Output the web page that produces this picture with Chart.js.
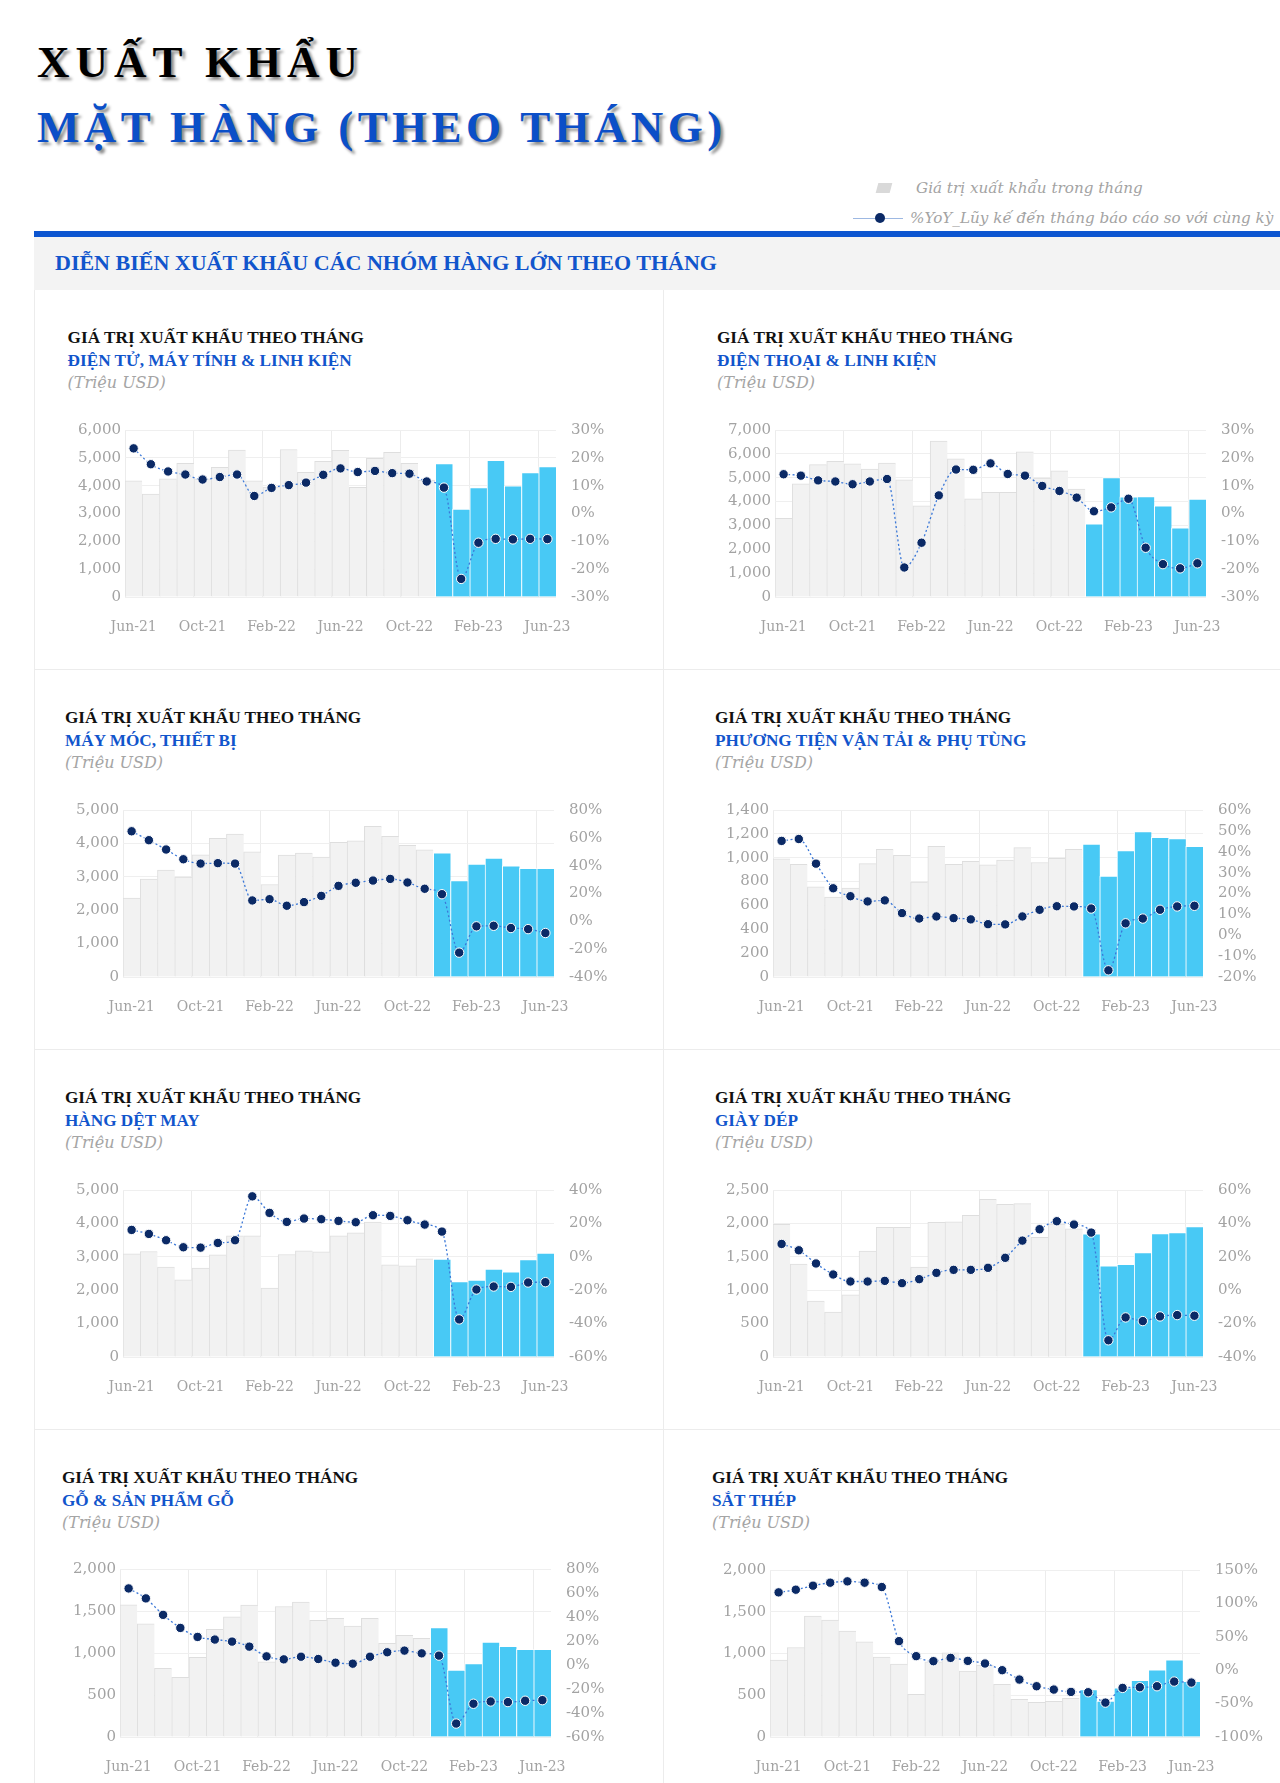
<!DOCTYPE html>
<html lang="vi">
<head>
<meta charset="utf-8">
<script src="https://cdn.jsdelivr.net/npm/chart.js@4.4.1/dist/chart.umd.min.js"></script>
<style>
html,body{margin:0;padding:0;background:#fff;}
#page{position:relative;width:1280px;height:1783px;overflow:hidden;background:#fff;}
.abs{position:absolute;white-space:nowrap;}
.big{font-family:'Liberation Serif',serif;font-weight:bold;font-size:45px;line-height:50px;text-shadow:3px 3px 3px rgba(0,0,0,0.45);}
.leg{font-family:'DejaVu Serif',serif;font-style:italic;font-size:15.2px;color:#a3a3a3;line-height:24px;}
.panel{position:absolute;box-sizing:border-box;border-left:1px solid #ececec;border-bottom:1px solid #ececec;background:#fff;}
.t1{font-family:'Liberation Serif',serif;font-weight:bold;font-size:17.2px;color:#111;line-height:24px;}
.t2{font-family:'Liberation Serif',serif;font-weight:bold;font-size:17.2px;color:#1155cc;line-height:24px;}
.t3{font-family:'DejaVu Serif',serif;font-style:italic;font-size:16px;color:#a5a5a5;line-height:24px;}
canvas{position:absolute;}
</style>
</head>
<body>
<div id="page">
  <div class="abs big" style="left:37px;top:37px;color:#000;letter-spacing:6px;">XUẤT KHẨU</div>
  <div class="abs big" style="left:37px;top:102px;color:#0b4fc8;letter-spacing:4.4px;">MẶT HÀNG (THEO THÁNG)</div>

  <div class="abs" style="left:877px;top:183px;width:14px;height:10px;background:#d9d9d9;transform:skewX(-15deg);"></div>
  <div class="abs leg" style="left:916px;top:176px;">Giá trị xuất khẩu trong tháng</div>
  <div class="abs" style="left:853px;top:218px;width:50px;height:1px;background:#9db8e2;"></div>
  <div class="abs" style="left:875px;top:213px;width:10px;height:10px;border-radius:50%;background:#0b2a66;"></div>
  <div class="abs leg" style="left:910px;top:206px;">%YoY_Lũy kế đến tháng báo cáo so với cùng kỳ</div>

  <div class="abs" style="left:34px;top:231px;width:1246px;height:6px;background:#0c55d0;"></div>
  <div class="abs" style="left:34px;top:237px;width:1246px;height:53px;background:#f3f3f3;"></div>
  <div class="abs" style="left:55px;top:249px;font-family:'Liberation Serif',serif;font-weight:bold;font-size:22px;line-height:28px;color:#1155cc;">DIỄN BIẾN XUẤT KHẨU CÁC NHÓM HÀNG LỚN THEO THÁNG</div>
</div>

<script>
// ---------- DATA ----------
const months = ["Jun-21","Jul-21","Aug-21","Sep-21","Oct-21","Nov-21","Dec-21","Jan-22","Feb-22","Mar-22","Apr-22","May-22","Jun-22","Jul-22","Aug-22","Sep-22","Oct-22","Nov-22","Dec-22","Jan-23","Feb-23","Mar-23","Apr-23","May-23","Jun-23"];
const highlightFrom = 18; // Dec-22 onward shown in cyan

const chartTitle = "GIÁ TRỊ XUẤT KHẨU THEO THÁNG";
const unitLabel = "(Triệu USD)";
const groupNames = ["ĐIỆN TỬ, MÁY TÍNH & LINH KIỆN","ĐIỆN THOẠI & LINH KIỆN","MÁY MÓC, THIẾT BỊ","PHƯƠNG TIỆN VẬN TẢI & PHỤ TÙNG","HÀNG DỆT MAY","GIÀY DÉP","GỖ & SẢN PHẨM GỖ","SẮT THÉP"];

const dienTuValue = [4170,3700,4250,4800,4250,4660,5280,4170,3950,5300,4480,4870,5270,3940,4980,5200,4800,4200,4790,3160,3930,4910,3990,4470,4690];
const dienTuYoY   = [23.4,17.7,15.1,14.0,12.2,13.1,14.0,6.3,9.2,10.2,11.1,13.9,16.2,14.9,15.3,14.5,14.3,11.5,9.3,-23.5,-10.5,-9.1,-9.3,-9.1,-9.2];

const dienThoaiValue = [3300,4740,5550,5690,5580,5360,5610,4910,3820,6540,5790,4110,4390,4390,6090,4980,5290,4520,3070,5010,4200,4210,3820,2900,4100];
const dienThoaiYoY   = [14.1,13.6,11.9,11.5,10.5,11.5,12.4,-19.4,-10.5,6.5,15.8,15.7,18.0,14.2,13.6,9.9,8.1,5.7,0.8,2.2,5.3,-12.3,-18.2,-19.7,-17.9];

const mayMocValue = [2360,2930,3200,2990,3660,4150,4280,3750,2770,3650,3710,3590,4030,4080,4510,4210,3940,3810,3720,2890,3380,3560,3330,3250,3250];
const mayMocYoY   = [64.7,58.3,51.6,44.6,41.5,41.8,41.5,15.0,15.9,11.2,13.8,18.3,25.5,27.7,29.3,30.5,27.9,23.4,19.5,-22.5,-3.6,-3.2,-4.8,-5.6,-8.4];

const phuongTienValue = [990,945,755,670,745,950,1070,1020,795,1095,945,970,940,980,1085,960,995,1070,1115,845,1060,1220,1170,1160,1095];
const phuongTienYoY   = [45.2,46.1,34.3,22.5,18.7,16.2,16.7,10.6,8.0,9.0,8.2,7.6,5.3,5.2,9.0,12.2,13.9,13.8,12.8,-16.8,5.7,8.0,12.2,13.8,14.1];

const detMayValue = [3090,3160,2690,2310,2660,3060,3630,3630,2060,3070,3180,3150,3630,3720,4040,2760,2730,2940,2930,2260,2300,2630,2550,2920,3110];
const detMayYoY   = [16.1,13.7,9.9,5.7,5.5,8.3,9.9,36.2,26.3,20.9,22.9,22.5,21.5,20.7,24.9,24.5,21.9,19.3,15.1,-37.5,-19.6,-17.8,-18.0,-15.4,-15.2];

const giayDepValue = [1987,1390,837,672,931,1584,1942,1942,1345,2017,2022,2122,2361,2286,2296,1793,1990,1920,1843,1365,1389,1564,1848,1863,1952];
const giayDepYoY   = [27.7,23.9,16.0,9.4,5.2,5.2,5.6,4.2,6.6,10.4,12.2,12.2,13.4,19.4,29.7,36.5,41.3,39.3,34.5,-30.0,-16.3,-18.5,-15.7,-14.9,-15.3];

const goValue = [1574,1347,817,709,948,1283,1430,1570,896,1554,1606,1390,1414,1319,1414,1116,1211,1175,1303,797,873,1131,1080,1044,1044];
const goYoY   = [63.8,55.5,41.8,30.9,23.4,21.2,19.5,15.3,7.2,4.7,6.9,5.0,1.9,1.1,6.9,10.6,12.0,9.7,7.8,-48.8,-32.3,-30.4,-30.9,-29.8,-29.3];

const satThepValue = [920,1072,1448,1400,1268,1140,956,872,512,900,1008,788,860,632,452,416,428,464,568,430,588,680,804,924,668];
const satThepYoY   = [116.5,120.5,126.5,131,133,131,124.5,43.5,21,13.5,18.5,14,10,0,-14,-24,-29,-32.5,-33,-48.5,-26.5,-25.5,-24,-17,-18.5];

// axis ranges: [min, max, step]
const valueAxes = [[0,6000,1000],[0,7000,1000],[0,5000,1000],[0,1400,200],[0,5000,1000],[0,2500,500],[0,2000,500],[0,2000,500]];
const yoyAxes   = [[-30,30,10],[-30,30,10],[-40,80,20],[-20,60,10],[-60,40,20],[-40,60,20],[-60,80,20],[-100,150,50]];

const seriesValues = [dienTuValue,dienThoaiValue,mayMocValue,phuongTienValue,detMayValue,giayDepValue,goValue,satThepValue];
const seriesYoY    = [dienTuYoY,dienThoaiYoY,mayMocYoY,phuongTienYoY,detMayYoY,giayDepYoY,goYoY,satThepYoY];

// ---------- LAYOUT ----------
const panelBoxes = [
  {x:34,y:290,w:629,h:380},{x:663,y:290,w:617,h:380},
  {x:34,y:670,w:629,h:380},{x:663,y:670,w:617,h:380},
  {x:34,y:1050,w:629,h:380},{x:663,y:1050,w:617,h:380},
  {x:34,y:1430,w:629,h:360},{x:663,y:1430,w:617,h:360}
];
const titleX = [67.6,717,65,715,65,715,62,712];
const titleY = [338,338,718,718,1098,1098,1478,1478];
const plotRects = [
  {l:125,r:556,t:430,b:597},{l:775,r:1206,t:430,b:597},
  {l:123,r:554,t:810,b:977},{l:773,r:1203,t:810,b:977},
  {l:123,r:554,t:1190,b:1357},{l:773,r:1203,t:1190,b:1357},
  {l:120,r:551,t:1569,b:1737},{l:770,r:1200,t:1570,b:1737}
];

const GREY = '#f2f2f2', GREY_EDGE = '#dedede', CYAN = '#48c9f5';
const TICK = '#a3a3a3';
const SIDE = 80, TOP = 15, XH = 50;

Chart.defaults.font.family = "'DejaVu Serif', serif";

const page = document.getElementById('page');

function addText(cls, txt, x, cy) {
  const d = document.createElement('div');
  d.className = 'abs ' + cls;
  d.style.left = x + 'px';
  d.style.top = (cy - 12) + 'px';
  d.textContent = txt;
  page.appendChild(d);
}

function fixVertical(s) {
  s.width = SIDE;
  s.paddingTop = 0;
  s.paddingBottom = 0;
}

for (let i = 0; i < 8; i++) {
  const pb = panelBoxes[i];
  const p = document.createElement('div');
  p.className = 'panel';
  p.style.left = pb.x + 'px'; p.style.top = pb.y + 'px';
  p.style.width = pb.w + 'px'; p.style.height = pb.h + 'px';
  page.appendChild(p);
}

for (let i = 0; i < 8; i++) {
  addText('t1', chartTitle, titleX[i], titleY[i]);
  addText('t2', groupNames[i], titleX[i], titleY[i] + 22.5);
  addText('t3', unitLabel, titleX[i], titleY[i] + 45);

  const pr = plotRects[i];
  const cw = Math.round(pr.r - pr.l) + 2 * SIDE;
  const ch = Math.round(pr.b - pr.t) + TOP + XH;
  const cv = document.createElement('canvas');
  cv.width = cw; cv.height = ch;
  cv.style.width = cw + 'px'; cv.style.height = ch + 'px';
  cv.style.left = (pr.l - SIDE) + 'px';
  cv.style.top = (pr.t - TOP) + 'px';
  page.appendChild(cv);

  const vals = seriesValues[i], yoy = seriesYoY[i];
  const va = valueAxes[i], ya = yoyAxes[i];

  new Chart(cv.getContext('2d'), {
    data: {
      labels: months,
      datasets: [
        {
          type: 'line', label: '%YoY', yAxisID: 'y1', data: yoy, order: 0,
          borderColor: '#3b78d8', borderWidth: 1.3, borderDash: [2, 2.5],
          pointRadius: 4.7, pointBackgroundColor: '#0b2a66',
          pointBorderColor: '#ffffff', pointBorderWidth: 1,
          cubicInterpolationMode: 'monotone', fill: false
        },
        {
          type: 'bar', label: 'Giá trị', yAxisID: 'y', data: vals, order: 1,
          backgroundColor: vals.map((v, k) => k >= highlightFrom ? CYAN : GREY),
          borderColor: vals.map((v, k) => k >= highlightFrom ? '#ffffff' : GREY_EDGE),
          borderWidth: {top: 1, left: 1, right: 0, bottom: 0},
          borderSkipped: false,
          barPercentage: 1, categoryPercentage: 1
        }
      ]
    },
    options: {
      responsive: false, animation: false, devicePixelRatio: 1,
      layout: {padding: {top: TOP, left: 0, right: 0, bottom: 0}},
      plugins: {legend: {display: false}, tooltip: {enabled: false}},
      scales: {
        x: {
          offset: true,
          grid: {offset: true, drawTicks: false, color: (c) => (c.index % 4 === 0 ? '#ececec' : 'rgba(0,0,0,0)')},
          border: {display: false},
          ticks: {autoSkip: false, maxRotation: 0, minRotation: 0, padding: 22, color: TICK,
                  font: {size: 14},
                  callback: (v, k) => (k % 4 === 0 ? months[k] : '')},
          afterFit: (s) => { s.height = XH; }
        },
        y: {
          position: 'left', min: va[0], max: va[1],
          grid: {color: '#efefef', drawTicks: false},
          border: {display: false},
          ticks: {stepSize: va[2], autoSkip: false, maxTicksLimit: 20, padding: 4, color: TICK, font: {size: 15},
                  callback: (v) => v.toLocaleString('en-US')},
          afterFit: fixVertical
        },
        y1: {
          position: 'right', min: ya[0], max: ya[1],
          grid: {display: false, drawTicks: false},
          border: {display: false},
          ticks: {stepSize: ya[2], autoSkip: false, maxTicksLimit: 20, padding: 15, color: TICK, font: {size: 15},
                  callback: (v) => v + '%'},
          afterFit: fixVertical
        }
      }
    }
  });
}
</script>
</body>
</html>
